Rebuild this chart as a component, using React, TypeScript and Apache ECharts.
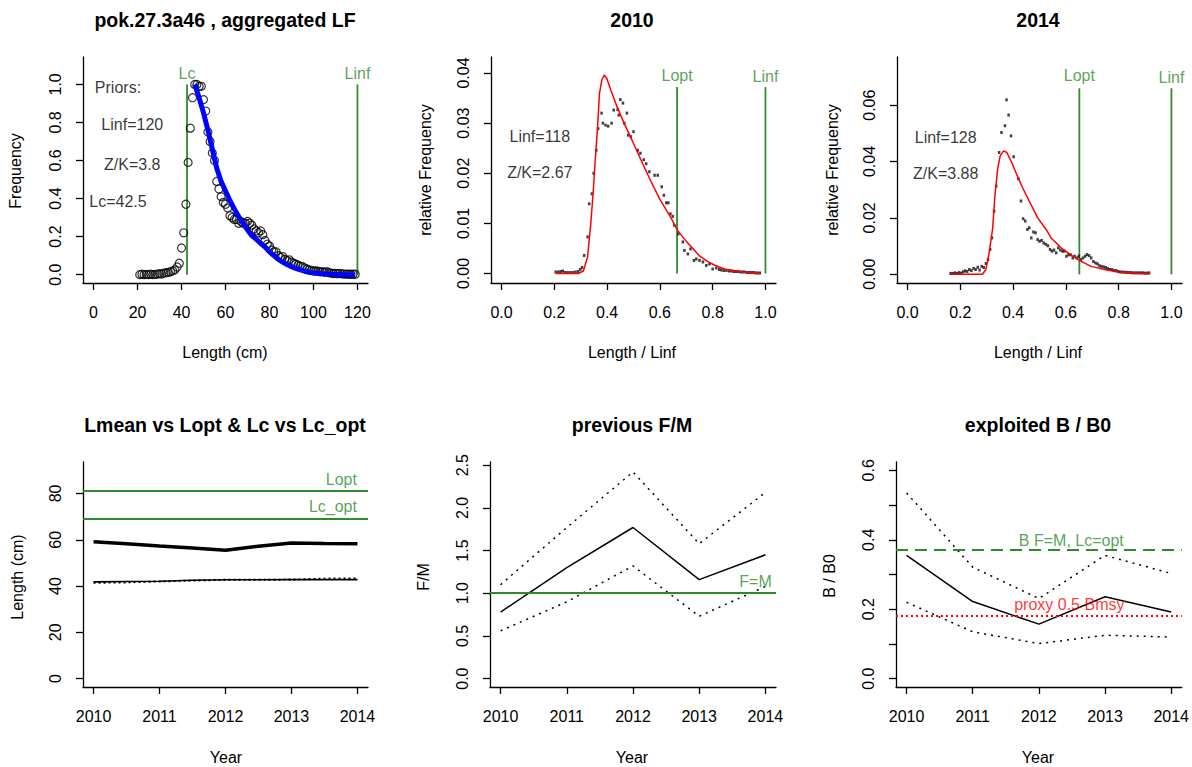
import React, { useEffect, useRef } from 'react';
import * as echarts from 'echarts';

const FONT = "'Liberation Sans', Arial, Helvetica, sans-serif";
const GREEN = '#2f8a2f';

// ---------- Panel 1: aggregated length frequency ----------
const lfLength = [21,22,23,24,25,26,27,28,29,30,31,32,33,34,35,36,37,38,39,40,41,42,43,44,45,46,47,48,49,50,51,52,53,54,55,56,57,58,59,60,61,62,63,64,65,66,67,68,69,70,71,72,73,74,75,76,77,78,79,80,81,82,83,84,85,86,87,88,89,90,91,92,93,94,95,96,97,98,99,100,101,102,103,104,105,106,107,108,109,110,111,112,113,114,115,116,117,118,119];
const lfFreq = [0,0.002,0,0.001,0,0.002,0,0.001,0.003,
  0.005,0.003,0.008,0.01,0.012,0.015,0.02,0.025,0.04,0.06,
  0.14,0.22,0.37,0.59,0.77,0.93,1.0,1.0,0.99,0.99,
  0.92,0.86,0.75,0.70,0.64,0.60,0.49,0.45,0.41,0.38,
  0.37,0.35,0.31,0.30,0.29,0.29,0.27,0.28,0.27,0.27,
  0.28,0.27,0.26,0.24,0.23,0.22,0.23,0.21,0.18,0.16,
  0.15,0.13,0.12,0.12,0.10,0.09,0.095,0.08,0.075,0.078,
  0.065,0.06,0.055,0.05,0.045,0.042,0.035,0.03,0.025,0.022,
  0.02,0.02,0.018,0.015,0.016,0.012,0.016,0.01,0.008,0.006,
  0.007,0.005,0.007,0.004,0.003,0.003,0.002,0.002,0.002,0.002];
const fitLength = [46,48,50,52,54,56,58,60,62,64,66,68,70,72,74,76,78,80,82,84,86,88,90,92,94,96,98,100,104,108,112,116,119];
const fitFreq = [1.0,0.93,0.85,0.76,0.66,0.56,0.49,0.44,0.39,0.345,0.305,0.27,0.235,0.205,0.185,0.165,0.145,0.12,0.1,0.08,0.066,0.053,0.042,0.033,0.025,0.018,0.012,0.008,0.004,0.002,0.001,0.0,0.0];
const lcPrior = 42.5;
const linfPrior = 120;
const priorTexts = ['Priors:', 'Linf=120', 'Z/K=3.8', 'Lc=42.5'];
const priorX = [11.1, 17.6, 17.6, 11.1];
const priorY = [0.983, 0.787, 0.58, 0.386];

// ---------- Panel 2: 2010 ----------
const r2010 = [0.205,0.215,0.224,0.232,0.24,0.25,0.26,0.27,0.28,0.29,
  0.298,0.305,0.313,0.326,0.332,0.342,0.349,0.359,0.366,0.379,
  0.384,0.394,0.404,0.417,0.425,0.44,0.444,0.45,0.46,0.465,
  0.475,0.48,0.49,0.5,0.516,0.526,0.539,0.548,0.56,0.58,
  0.592,0.607,0.615,0.624,0.632,0.64,0.649,0.655,0.67,0.687,
  0.693,0.706,0.716,0.729,0.738,0.75,0.763,0.776,0.788,0.8,
  0.814,0.825,0.833,0.842,0.852,0.862,0.871,0.88,0.888,0.896,
  0.905,0.913,0.921,0.93,0.938,0.947,0.955,0.963,0.971,0.979];
const f2010 = [0.0003,0.0003,0.0004,0.0005,0.0002,0.0002,0.0002,0.0002,0.0003,0.0004,
  0.0008,0.0012,0.0036,0.0073,0.0139,0.0159,0.02,0.0246,0.0289,0.032,
  0.03,0.0296,0.0294,0.03,0.0326,0.0327,0.0316,0.0347,0.034,0.03,
  0.032,0.0276,0.0273,0.0283,0.0246,0.024,0.0227,0.0219,0.0203,0.0196,
  0.0196,0.0173,0.0156,0.0141,0.0141,0.0119,0.0114,0.0096,0.0079,0.0063,
  0.0046,0.0039,0.0049,0.0026,0.0029,0.0026,0.0023,0.0016,0.0019,0.0009,
  0.0011,0.0008,0.0007,0.0006,0.0006,0.0005,0.0005,0.0004,0.0004,0.0004,
  0.0003,0.0003,0.0003,0.0002,0.0002,0.0002,0.0002,0.0001,0.0001,0.0001];
const r2010Fit = [0.205,0.25,0.29,0.31,0.326,0.338,0.347,0.355,0.364,0.371,0.38,0.389,0.399,0.414,0.433,0.465,0.497,0.529,0.564,0.6,0.64,0.667,0.7,0.72,0.75,0.78,0.81,0.845,0.91,0.98];
const f2010Fit = [0,0,0,0.0005,0.0033,0.0099,0.016,0.0226,0.0293,0.0359,0.0386,0.0396,0.0389,0.0366,0.0339,0.0299,0.0263,0.0226,0.0186,0.0148,0.0113,0.0086,0.0064,0.0053,0.0035,0.0024,0.0016,0.0009,0.0003,0.0001];
const lopt2010 = 0.665;
const refTop2010 = 0.0372;
const labelY2010 = 0.0396;
const texts2010 = ['Linf=118', 'Z/K=2.67'];
const textY2010 = [0.0273, 0.0202];

// ---------- Panel 3: 2014 ----------
const r2014 = [0.163,0.171,0.179,0.187,0.195,0.203,0.211,0.218,0.226,0.234,
  0.242,0.25,0.258,0.266,0.273,0.281,0.289,0.297,0.305,0.313,
  0.32,0.328,0.336,0.347,0.356,0.369,0.375,0.383,0.392,0.402,
  0.42,0.43,0.438,0.446,0.454,0.461,0.469,0.477,0.485,0.493,
  0.5,0.508,0.516,0.524,0.532,0.54,0.547,0.555,0.563,0.571,
  0.579,0.587,0.594,0.602,0.61,0.618,0.626,0.633,0.641,0.649,
  0.657,0.665,0.673,0.68,0.688,0.696,0.704,0.712,0.72,0.727,
  0.735,0.743,0.751,0.759,0.766,0.774,0.782,0.79,0.798,0.805,
  0.813,0.821,0.829,0.837,0.845,0.852,0.86,0.868,0.876,0.884,
  0.891,0.899,0.907,0.915];
const f2014 = [0.0003,0.0003,0.0005,0.0003,0.0006,0.0004,0.0009,0.0012,0.001,0.0017,
  0.0013,0.0021,0.0017,0.0025,0.0015,0.0028,0.0024,0.0038,0.0052,0.0088,
  0.0129,0.0224,0.0313,0.0432,0.0503,0.0527,0.0619,0.0565,0.0491,0.0417,
  0.0339,0.026,0.0197,0.0189,0.0159,0.0165,0.0129,0.015,0.0147,0.0123,
  0.0117,0.012,0.0111,0.0106,0.0101,0.0088,0.0082,0.0086,0.0076,0.0094,
  0.0086,0.0082,0.0082,0.0064,0.0069,0.0069,0.0058,0.0064,0.0058,0.0064,
  0.0052,0.0058,0.0064,0.007,0.0066,0.0058,0.0045,0.004,0.0037,0.003,
  0.0028,0.0026,0.0024,0.002,0.0017,0.0017,0.0013,0.0013,0.001,0.0008,
  0.0008,0.0007,0.0007,0.0006,0.0006,0.0005,0.0005,0.0005,0.0005,0.0005,
  0.0005,0.0004,0.0004,0.0005];
const r2014Fit = [0.163,0.2,0.25,0.284,0.297,0.309,0.322,0.331,0.341,0.351,0.364,0.376,0.392,0.411,0.436,0.461,0.493,0.525,0.544,0.582,0.62,0.658,0.696,0.746,0.797,0.861,0.92];
const f2014Fit = [0,0,0,0,0.0017,0.0076,0.0159,0.0277,0.0372,0.042,0.0438,0.0432,0.0402,0.036,0.0307,0.026,0.02,0.0159,0.0129,0.0094,0.0068,0.0046,0.0028,0.0017,0.0008,0.0004,0.0002];
const lopt2014 = 0.651;
const refTop2014 = 0.066;
const labelY2014 = 0.0704;
const texts2014 = ['Linf=128', 'Z/K=3.88'];
const textY2014 = [0.0485, 0.0359];

// ---------- Panel 4: Lmean vs Lopt & Lc vs Lc_opt ----------
const lmeanYear = [2010,2010.5,2011,2011.5,2012,2012.5,2013,2013.5,2014];
const lmean = [59.1,58.3,57.3,56.4,55.5,57.2,58.6,58.4,58.3];
const lcYear = [2010,2010.5,2011,2011.5,2012,2013,2014];
const lcSolid = [41.8,42.0,42.1,42.5,42.7,42.8,42.8];
const lcAltYear = [2010,2010.5,2011,2011.5,2012,2013,2013.5,2014];
const lcAlt = [41.4,41.6,42.0,42.4,42.7,42.8,43.2,43.3];
const loptLen = 81.3;
const lcOptLen = 69.3;

// ---------- Panel 5: previous F/M ----------
const years = [2010, 2011, 2012, 2013, 2014];
const fm = [0.78, 1.30, 1.77, 1.16, 1.45];
const fmUpper = [1.10, 1.77, 2.42, 1.58, 2.18];
const fmLower = [0.56, 0.90, 1.32, 0.73, 1.08];
const fmRef = 1.0;

// ---------- Panel 6: exploited B / B0 ----------
const bb0 = [0.355, 0.222, 0.157, 0.236, 0.192];
const bb0Upper = [0.535, 0.321, 0.231, 0.355, 0.303];
const bb0Lower = [0.22, 0.135, 0.101, 0.125, 0.12];
const bFmLcOpt = 0.366;
const proxyBmsy = 0.183;

const zip = (xs: number[], ys: number[]) => xs.map((x, i) => [x, ys[i]]);

const grids = [
  { left: 83, top: 57, width: 285, height: 226 },
  { left: 491, top: 57, width: 285, height: 226 },
  { left: 897, top: 57, width: 285, height: 226 },
  { left: 83, top: 462, width: 285, height: 225 },
  { left: 490, top: 462, width: 286, height: 225 },
  { left: 896, top: 462, width: 286, height: 225 },
];

function makeAxis(kind: 'x' | 'y', gridIndex: number, min: number, max: number,
  ticks: number[], labels: number[], digits: number) {
  return {
    type: 'value',
    gridIndex,
    min,
    max,
    position: kind === 'x' ? 'bottom' : 'left',
    axisLine: { show: true, onZero: false, lineStyle: { color: '#000', width: 1.3 } },
    axisTick: { show: true, inside: false, length: 7, lineStyle: { color: '#000', width: 1.3 }, customValues: ticks },
    splitLine: { show: false },
    axisLabel: {
      show: true,
      customValues: labels,
      rotate: kind === 'y' ? 90 : 0,
      margin: kind === 'y' ? 20 : 21,
      color: '#000',
      fontSize: 16,
      fontFamily: FONT,
      formatter: (v: number) => v.toFixed(digits),
    },
  };
}

function textSeries(idx: number, pts: { x: number; y: number; t: string; color?: string; right?: boolean }[]) {
  return {
    type: 'scatter',
    xAxisIndex: idx,
    yAxisIndex: idx,
    silent: true,
    symbolSize: 1,
    itemStyle: { color: 'rgba(0,0,0,0)' },
    z: 10,
    data: pts.map((p) => ({
      value: [p.x, p.y],
      name: p.t,
      label: {
        show: true,
        position: p.right ? 'left' : 'inside',
        distance: 0,
        formatter: '{b}',
        color: p.color || '#000',
        fontSize: 16,
        fontFamily: FONT,
      },
    })),
  };
}

function lineSeries(idx: number, data: number[][], color: string, width: number, type: any = 'solid', z = 3) {
  return {
    type: 'line',
    xAxisIndex: idx,
    yAxisIndex: idx,
    silent: true,
    symbol: 'none',
    showSymbol: false,
    z,
    lineStyle: { color, width, type },
    data,
  };
}

function hLine(idx: number, value: number, color: string, width: number, type: any = 'solid') {
  return {
    type: 'line',
    xAxisIndex: idx,
    yAxisIndex: idx,
    silent: true,
    symbol: 'none',
    data: [],
    markLine: {
      silent: true,
      symbol: ['none', 'none'],
      label: { show: false },
      lineStyle: { color, width, type },
      data: [{ yAxis: value }],
    },
  };
}

function dots(idx: number, data: number[][]) {
  return {
    type: 'scatter',
    xAxisIndex: idx,
    yAxisIndex: idx,
    silent: true,
    symbol: 'rect',
    symbolSize: [2.5, 3],
    itemStyle: { color: '#111' },
    z: 4,
    data,
  };
}

const titleTexts = [
  { t: 'pok.27.3a46 , aggregated LF', x: 225, y: 20 },
  { t: '2010', x: 632, y: 20 },
  { t: '2014', x: 1038, y: 20 },
  { t: 'Lmean vs Lopt & Lc vs Lc_opt', x: 225, y: 425 },
  { t: 'previous F/M', x: 632, y: 425 },
  { t: 'exploited B / B0', x: 1038, y: 425 },
];
const xNames = [
  { t: 'Length (cm)', x: 225, y: 352 },
  { t: 'Length / Linf', x: 632, y: 352 },
  { t: 'Length / Linf', x: 1038, y: 352 },
  { t: 'Year', x: 226, y: 757 },
  { t: 'Year', x: 632, y: 757 },
  { t: 'Year', x: 1038, y: 757 },
];
const yNames = [
  { t: 'Frequency', x: 15, y: 171 },
  { t: 'relative Frequency', x: 425, y: 170 },
  { t: 'relative Frequency', x: 832, y: 170 },
  { t: 'Length (cm)', x: 17, y: 577 },
  { t: 'F/M', x: 423, y: 577 },
  { t: 'B / B0', x: 829, y: 576 },
];

function buildOption() {
  const lenTicks = [0, 20, 40, 60, 80, 100, 120];
  const relTicks = [0, 0.2, 0.4, 0.6, 0.8, 1.0];
  const xAxes = [
    makeAxis('x', 0, -4.8, 124.8, lenTicks, lenTicks, 0),
    makeAxis('x', 1, -0.04, 1.04, relTicks, relTicks, 1),
    makeAxis('x', 2, -0.04, 1.04, relTicks, relTicks, 1),
    makeAxis('x', 3, 2009.84, 2014.16, years, years, 0),
    makeAxis('x', 4, 2009.84, 2014.16, years, years, 0),
    makeAxis('x', 5, 2009.84, 2014.16, years, years, 0),
  ];
  const y1 = [0, 0.2, 0.4, 0.6, 0.8, 1.0];
  const y2 = [0, 0.01, 0.02, 0.03, 0.04];
  const y3 = [0, 0.02, 0.04, 0.06];
  const y4 = [0, 20, 40, 60, 80];
  const y5 = [0, 0.5, 1.0, 1.5, 2.0, 2.5];
  const y6t = [0, 0.1, 0.2, 0.3, 0.4, 0.5, 0.6];
  const y6l = [0, 0.2, 0.4, 0.6];
  const yAxes = [
    makeAxis('y', 0, -0.044, 1.144, y1, y1, 1),
    makeAxis('y', 1, -0.0019, 0.0432, y2, y2, 2),
    makeAxis('y', 2, -0.0031, 0.0771, y3, y3, 2),
    makeAxis('y', 3, -3.6, 93.6, y4, y4, 0),
    makeAxis('y', 4, -0.098, 2.537, y5, y5, 1),
    makeAxis('y', 5, -0.024, 0.624, y6t, y6l, 1),
  ];

  const series: any[] = [
    // Panel 1
    lineSeries(0, [[lcPrior, 0], [lcPrior, 1]], GREEN, 1.8),
    lineSeries(0, [[linfPrior, 0], [linfPrior, 1]], GREEN, 1.8),
    {
      type: 'scatter', xAxisIndex: 0, yAxisIndex: 0, silent: true, symbol: 'circle', symbolSize: 8, z: 4,
      itemStyle: { color: 'rgba(0,0,0,0)', borderColor: '#000', borderWidth: 1.2 },
      data: zip(lfLength, lfFreq),
    },
    lineSeries(0, zip(fitLength, fitFreq), '#0000ff', 5, 'solid', 5),
    textSeries(0, [
      { x: lcPrior, y: 1.057, t: 'Lc', color: GREEN },
      { x: linfPrior, y: 1.057, t: 'Linf', color: GREEN },
      ...priorTexts.map((t, i) => ({ x: priorX[i], y: priorY[i], t })),
    ]),
    // Panel 2
    lineSeries(1, [[lopt2010, 0], [lopt2010, refTop2010]], GREEN, 1.8),
    lineSeries(1, [[1, 0], [1, refTop2010]], GREEN, 1.8),
    dots(1, zip(r2010, f2010)),
    lineSeries(1, zip(r2010Fit, f2010Fit), '#ff0000', 1.5, 'solid', 5),
    textSeries(1, [
      { x: lopt2010, y: labelY2010, t: 'Lopt', color: GREEN },
      { x: 1, y: labelY2010 - 0.0003, t: 'Linf', color: GREEN },
      ...texts2010.map((t, i) => ({ x: 0.145, y: textY2010[i], t })),
    ]),
    // Panel 3
    lineSeries(2, [[lopt2014, 0], [lopt2014, refTop2014]], GREEN, 1.8),
    lineSeries(2, [[1, 0], [1, refTop2014]], GREEN, 1.8),
    dots(2, zip(r2014, f2014)),
    lineSeries(2, zip(r2014Fit, f2014Fit), '#ff0000', 1.5, 'solid', 5),
    textSeries(2, [
      { x: lopt2014, y: labelY2014, t: 'Lopt', color: GREEN },
      { x: 1, y: labelY2014 - 0.0005, t: 'Linf', color: GREEN },
      ...texts2014.map((t, i) => ({ x: 0.1445, y: textY2014[i], t })),
    ]),
    // Panel 4
    hLine(3, loptLen, GREEN, 1.8),
    hLine(3, lcOptLen, GREEN, 1.8),
    lineSeries(3, zip(lmeanYear, lmean), '#000', 3.5),
    lineSeries(3, zip(lcAltYear, lcAlt), '#000', 2, [2, 3]),
    lineSeries(3, zip(lcYear, lcSolid), '#000', 1.6),
    textSeries(3, [
      { x: 2014, y: 86.1, t: 'Lopt', color: GREEN, right: true },
      { x: 2014, y: 74.5, t: 'Lc_opt', color: GREEN, right: true },
    ]),
    // Panel 5
    hLine(4, fmRef, GREEN, 1.8),
    lineSeries(4, zip(years, fmUpper), '#000', 1.5, [2, 5]),
    lineSeries(4, zip(years, fmLower), '#000', 1.5, [2, 5]),
    lineSeries(4, zip(years, fm), '#000', 1.5),
    textSeries(4, [{ x: 2013.85, y: 1.14, t: 'F=M', color: GREEN }]),
    // Panel 6
    hLine(5, bFmLcOpt, GREEN, 2, [12, 7]),
    hLine(5, proxyBmsy, '#ff0000', 2, [2, 3]),
    lineSeries(5, zip(years, bb0Upper), '#000', 1.5, [2, 5]),
    lineSeries(5, zip(years, bb0Lower), '#000', 1.5, [2, 5]),
    lineSeries(5, zip(years, bb0), '#000', 1.5),
    textSeries(5, [
      { x: 2012.49, y: 0.397, t: 'B F=M, Lc=opt', color: GREEN },
      { x: 2012.46, y: 0.213, t: 'proxy 0.5 Bmsy', color: '#ff0000' },
    ]),
  ];

  const graphic: any[] = [];
  titleTexts.forEach((g) => graphic.push({
    type: 'text', x: g.x, y: g.y, silent: true,
    style: { text: g.t, fill: '#000', fontSize: 19.5, fontWeight: 'bold', fontFamily: FONT, align: 'center', verticalAlign: 'middle' },
  }));
  xNames.forEach((g) => graphic.push({
    type: 'text', x: g.x, y: g.y, silent: true,
    style: { text: g.t, fill: '#000', fontSize: 16, fontFamily: FONT, align: 'center', verticalAlign: 'middle' },
  }));
  yNames.forEach((g) => graphic.push({
    type: 'text', x: g.x, y: g.y, rotation: Math.PI / 2, silent: true,
    style: { text: g.t, fill: '#000', fontSize: 16, fontFamily: FONT, align: 'center', verticalAlign: 'middle' },
  }));

  return {
    animation: false,
    backgroundColor: '#ffffff',
    textStyle: { fontFamily: FONT },
    grid: grids,
    xAxis: xAxes,
    yAxis: yAxes,
    series,
    graphic,
  };
}

export default function App() {
  const ref = useRef<HTMLDivElement>(null);
  useEffect(() => {
    if (!ref.current) return;
    const chart = echarts.init(ref.current, null, { renderer: 'svg' });
    chart.setOption(buildOption() as any);
    return () => chart.dispose();
  }, []);
  return (
    <div
      ref={ref}
      style={{ position: 'absolute', left: 0, top: 0, width: 1192, height: 767, background: '#fff' }}
    />
  );
}
